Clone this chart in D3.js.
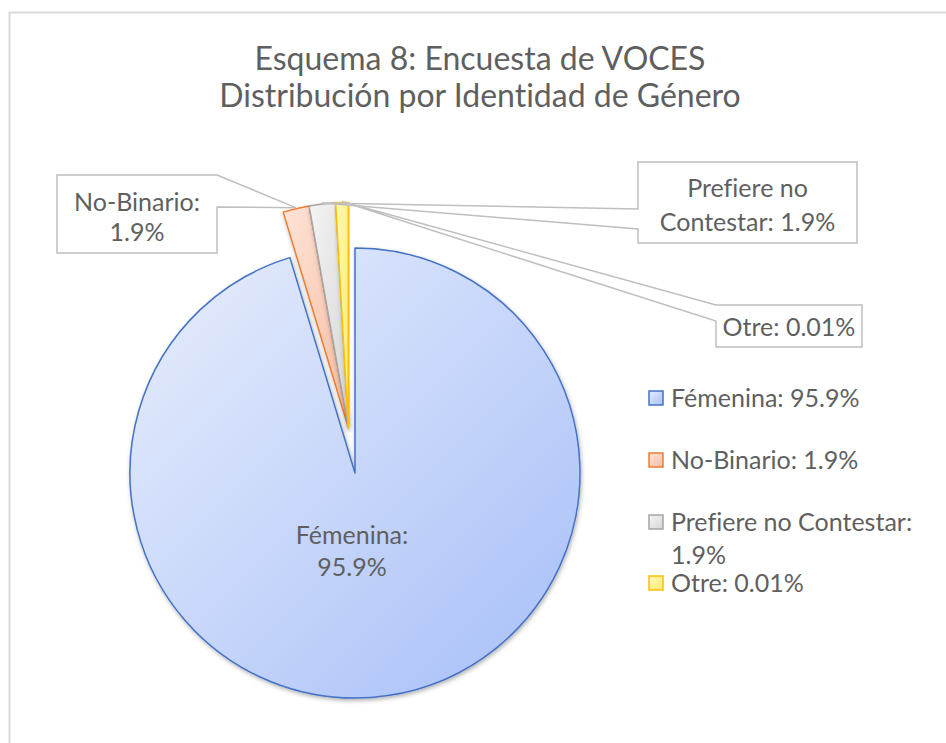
<!DOCTYPE html>
<html>
<head>
<meta charset="utf-8">
<script src="https://cdn.jsdelivr.net/npm/d3@7"></script>
<style>
  body { margin: 0; background: #fff; }
  svg text { font-family: Lato, "Open Sans", sans-serif; fill: #5f5f5f; font-variant-ligatures: none; }
</style>
</head>
<body>
<svg id="chart" width="946" height="743"></svg>
<script>
// data
let categories = ["Fémenina", "No-Binario", "Prefiere no Contestar", "Otre"];
let sliceValues = [95.9, 1.9, 1.9, 0.9];
let pctLabels = ["95.9%", "1.9%", "1.9%", "0.01%"];
let titleLines = ["Esquema 8: Encuesta de VOCES", "Distribución por Identidad de Género"];

let fills = [
  ["#E8EEFC", "#A6BEF8"],
  ["#FDE4D8", "#F8BCA0"],
  ["#F4F4F4", "#D6D6D6"],
  ["#FFF8B0", "#FFEC78"]
];
let strokes = ["#4472C4", "#ED7D31", "#A5A5A5", "#FFC000"];

let lineColor = "#BFBFBF";
let labelSize = 25;

let svg = d3.select("#chart");
let cx = 355, cy = 473, radius = 225;
let explodeDist = 46;

let defs = svg.append("defs");
fills.forEach(function(f, i) {
  let g = defs.append("linearGradient")
    .attr("id", "grad" + i)
    .attr("x1", 0).attr("y1", 0).attr("x2", 1).attr("y2", 1);
  g.append("stop").attr("offset", "0%").attr("stop-color", f[0]);
  g.append("stop").attr("offset", "100%").attr("stop-color", f[1]);
});
let shadow = defs.append("filter").attr("id", "shadow")
  .attr("x", "-10%").attr("y", "-10%").attr("width", "120%").attr("height", "120%");
shadow.append("feDropShadow")
  .attr("dx", 1).attr("dy", 2).attr("stdDeviation", 2)
  .attr("flood-color", "#000").attr("flood-opacity", 0.3);

// chart border
svg.append("rect")
  .attr("x", 9.5).attr("y", 12.5)
  .attr("width", 980).attr("height", 780)
  .attr("fill", "#fff")
  .attr("stroke", "#D9D9D9")
  .attr("stroke-width", 2);

// title
svg.append("text")
  .attr("text-anchor", "middle")
  .attr("font-size", 32)
  .selectAll("tspan")
  .data(titleLines)
  .enter()
  .append("tspan")
  .attr("x", 480)
  .attr("y", function(d, i) { return 59 + i * 37; })
  .attr("dy", "0.35em")
  .text(function(d) { return d; });

let pie = d3.pie().sort(null).value(function(d) { return d; });
let arcs = pie(sliceValues);

let arc = d3.arc().innerRadius(0).outerRadius(radius);

// the small slices are pulled out together
let groupAngle = (arcs[1].startAngle + arcs[3].endAngle) / 2;
let offX = explodeDist * Math.sin(groupAngle);
let offY = -explodeDist * Math.cos(groupAngle);

function sliceOffset(i) {
  return i == 0 ? [0, 0] : [offX, offY];
}

svg.selectAll(".slice")
  .data(arcs)
  .enter()
  .append("path")
  .attr("class", "slice")
  .attr("d", arc)
  .attr("transform", function(d, i) {
    let o = sliceOffset(i);
    return "translate(" + (cx + o[0]) + "," + (cy + o[1]) + ")";
  })
  .attr("fill", function(d, i) { return "url(#grad" + i + ")"; })
  .attr("stroke", function(d, i) { return strokes[i]; })
  .attr("stroke-width", 1.5)
  .attr("stroke-linejoin", "round")
  .attr("filter", "url(#shadow)");

// label inside big slice
svg.append("text")
  .attr("text-anchor", "middle")
  .attr("font-size", labelSize)
  .selectAll("tspan")
  .data([categories[0] + ":", pctLabels[0]])
  .enter()
  .append("tspan")
  .attr("x", cx - 3)
  .attr("y", function(d, i) { return cy + 62 + i * 32; })
  .attr("dy", "0.35em")
  .text(function(d) { return d; });

// callout labels for the small slices
let callouts = [
  { i: 1, x: 57, y: 175, w: 160, h: 78, side: "right", a: 0, b: 32,
    lines: ["No-Binario:", pctLabels[1]], ty: [27, 57] },
  { i: 2, x: 638, y: 162, w: 219, h: 81, side: "left", a: 47, b: 67,
    lines: ["Prefiere no", "Contestar: " + pctLabels[2]], ty: [26, 60] },
  { i: 3, x: 716, y: 305, w: 146, h: 42, side: "left", a: 0, b: 16,
    lines: ["Otre: " + pctLabels[3]], ty: [22] }
];

function tipPoint(i) {
  let d = arcs[i];
  let mid = (d.startAngle + d.endAngle) / 2;
  let o = sliceOffset(i);
  return [cx + o[0] + (radius + 1) * Math.sin(mid), cy + o[1] - (radius + 1) * Math.cos(mid)];
}

function calloutPath(c) {
  let t = tipPoint(c.i);
  let p = d3.path();
  if (c.side == "right") {
    p.moveTo(c.x, c.y);
    p.lineTo(c.x + c.w, c.y);
    p.lineTo(c.x + c.w, c.y + c.a);
    p.lineTo(t[0], t[1]);
    p.lineTo(c.x + c.w, c.y + c.b);
    p.lineTo(c.x + c.w, c.y + c.h);
    p.lineTo(c.x, c.y + c.h);
  } else {
    p.moveTo(c.x + c.w, c.y);
    p.lineTo(c.x + c.w, c.y + c.h);
    p.lineTo(c.x, c.y + c.h);
    p.lineTo(c.x, c.y + c.b);
    p.lineTo(t[0], t[1]);
    p.lineTo(c.x, c.y + c.a);
    p.lineTo(c.x, c.y);
  }
  p.closePath();
  return p.toString();
}

let cg = svg.selectAll(".callout")
  .data(callouts)
  .enter()
  .append("g")
  .attr("class", "callout");

cg.append("path")
  .attr("d", calloutPath)
  .attr("fill", "#fff")
  .attr("stroke", lineColor)
  .attr("stroke-width", 1.5)
  .attr("stroke-linejoin", "miter");

cg.append("text")
  .attr("text-anchor", "middle")
  .attr("font-size", labelSize)
  .selectAll("tspan")
  .data(function(c) {
    return c.lines.map(function(l, k) { return { t: l, x: c.x + c.w / 2, y: c.y + c.ty[k] }; });
  })
  .enter()
  .append("tspan")
  .attr("x", function(d) { return d.x; })
  .attr("y", function(d) { return d.y; })
  .attr("dy", "0.35em")
  .text(function(d) { return d.t; });

// legend
let legendItems = [
  { i: 0, lines: ["Fémenina: " + pctLabels[0]], y: 398 },
  { i: 1, lines: ["No-Binario: " + pctLabels[1]], y: 460 },
  { i: 2, lines: ["Prefiere no Contestar:", pctLabels[2]], y: 522 },
  { i: 3, lines: ["Otre: " + pctLabels[3]], y: 583 }
];

let lg = svg.selectAll(".legend")
  .data(legendItems)
  .enter()
  .append("g")
  .attr("class", "legend");

lg.append("rect")
  .attr("x", 649)
  .attr("y", function(d) { return d.y - 7; })
  .attr("width", 14).attr("height", 14)
  .attr("fill", function(d) { return "url(#grad" + d.i + ")"; })
  .attr("stroke", function(d) { return strokes[d.i]; })
  .attr("stroke-width", 1.5);

lg.append("text")
  .attr("font-size", labelSize)
  .selectAll("tspan")
  .data(function(d) {
    return d.lines.map(function(l, k) { return { t: l, y: d.y + k * 33 }; });
  })
  .enter()
  .append("tspan")
  .attr("x", 671)
  .attr("y", function(d) { return d.y; })
  .attr("dy", "0.35em")
  .text(function(d) { return d.t; });
</script>
</body>
</html>
